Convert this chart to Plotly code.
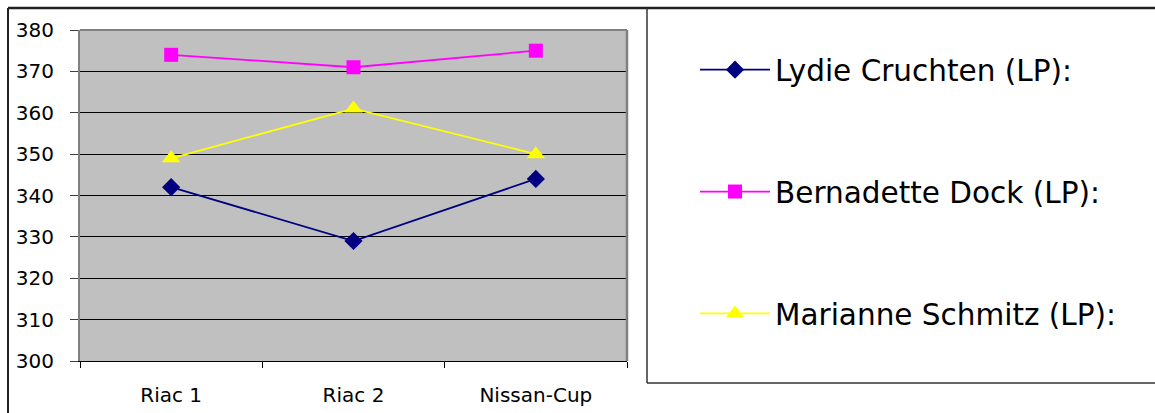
import plotly.graph_objects as go

categories = ["Riac 1", "Riac 2", "Nissan-Cup"]
lydie = [342, 329, 344]
bernadette = [374, 371, 375]
marianne = [349, 361, 350]
series_names = ["Lydie Cruchten (LP):", "Bernadette Dock (LP):", "Marianne Schmitz (LP):"]
y_ticks = [300, 310, 320, 330, 340, 350, 360, 370, 380]

W, H = 1155, 413
L, T = 80, 30
pw, ph = 627 - 80, 361 - 30
R, B = W - L - pw, H - T - ph

def px(x):
    return (x - L) / pw

def py(y):
    return (H - B - y) / ph

FONT = "DejaVu Sans"

fig = go.Figure()
styles = [
    dict(color="#000080", symbol="diamond", size=14),
    dict(color="#FF00FF", symbol="square", size=14),
    dict(color="#FFFF00", symbol="triangle-up", size=16),
]
for i, (name, vals) in enumerate(zip(series_names, [lydie, bernadette, marianne])):
    st = styles[i]
    fig.add_trace(go.Scatter(
        x=categories, y=vals, name=name, mode="lines+markers",
        legendgroup=f"g{i}",
        line=dict(color=st["color"], width=1.8),
        marker=dict(symbol=st["symbol"], size=st["size"], color=st["color"],
                    line=dict(width=0)),
    ))

def seg(x0, y0, x1, y1, color, width):
    return dict(type="line", xref="paper", yref="paper",
                x0=px(x0), y0=py(y0), x1=px(x1), y1=py(y1),
                line=dict(color=color, width=width), layer="below")

shapes = [
    seg(8, 8, 8, 420, "#222222", 2),
    seg(8, 8, 1160, 8, "#222222", 2.5),
    seg(647, 8, 647, 383, "#333333", 1.5),
    seg(647, 383, 1160, 383, "#333333", 1.5),
    dict(type="line", xref="paper", yref="paper", x0=0, x1=1, y0=1, y1=1,
         line=dict(color="#808080", width=2)),
    dict(type="line", xref="paper", yref="paper", x0=1, x1=1, y0=0, y1=1,
         line=dict(color="#808080", width=2.5)),
]

fig.update_layout(
    width=W, height=H,
    margin=dict(l=L, r=R, t=T, b=B, autoexpand=False),
    paper_bgcolor="white",
    plot_bgcolor="#C0C0C0",
    font=dict(family=FONT, color="black", size=20),
    shapes=shapes,
    showlegend=True,
    legend=dict(
        x=px(695), xanchor="left", y=py(44), yanchor="top",
        font=dict(family=FONT, size=29.5, color="black"),
        bgcolor="rgba(0,0,0,0)", borderwidth=0,
        tracegroupgap=80.5, itemwidth=70,
        traceorder="grouped",
    ),
    xaxis=dict(
        type="category", range=[-0.5, 2.5], automargin=False,
        showgrid=False, showline=True, linecolor="black", linewidth=1,
        ticks="outside", ticklen=6, tickcolor="black", tickson="boundaries",
        tickfont=dict(size=20, family=FONT), ticklabelstandoff=16,
        zeroline=False, fixedrange=True,
    ),
    yaxis=dict(
        range=[300, 380], tickvals=y_ticks, automargin=False,
        showgrid=True, gridcolor="#000000", gridwidth=1,
        showline=True, linecolor="#808080", linewidth=2,
        ticks="outside", ticklen=8, tickcolor="#404040",
        tickfont=dict(size=20, family=FONT), ticklabelstandoff=12,
        zeroline=False, fixedrange=True,
    ),
)

fig.write_html(
    "out.html",
    config={"displayModeBar": False},
    post_script="document.body.style.margin='0';document.body.style.overflow='hidden';",
)
